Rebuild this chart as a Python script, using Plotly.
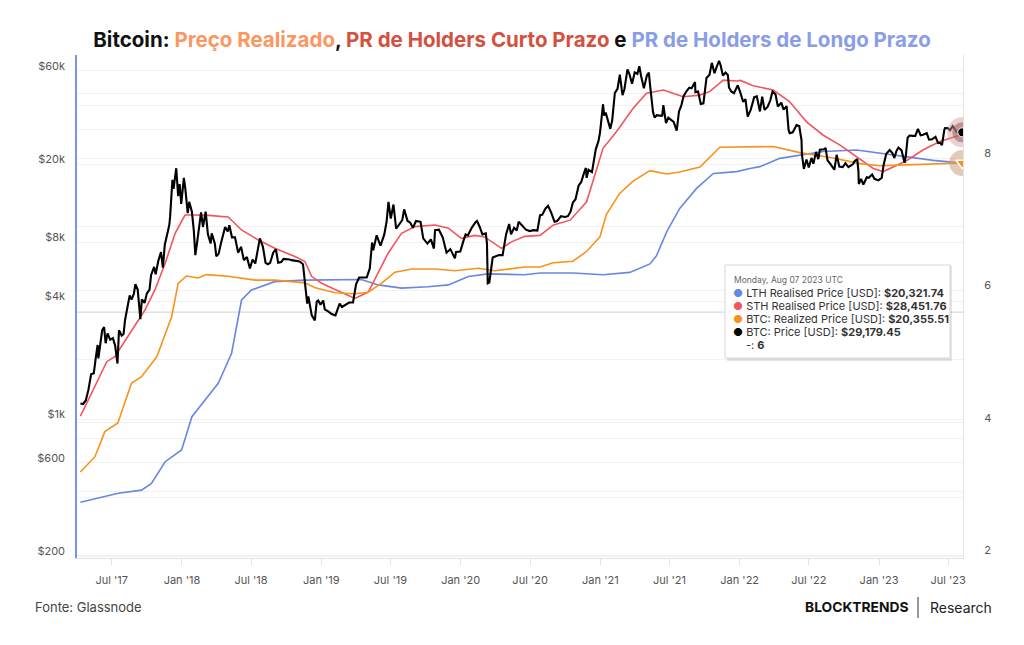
import plotly.graph_objects as go

# ---------------- data ----------------
price_dates = [
 "2017-04-10","2017-04-17","2017-04-24","2017-05-01","2017-05-08","2017-05-15","2017-05-20","2017-05-25","2017-05-27","2017-06-01",
 "2017-06-06","2017-06-11","2017-06-15","2017-06-20","2017-06-27","2017-07-04","2017-07-10","2017-07-16","2017-07-20","2017-07-27",
 "2017-08-01","2017-08-05","2017-08-12","2017-08-17","2017-08-22","2017-08-28","2017-09-01","2017-09-07","2017-09-14","2017-09-18",
 "2017-09-25","2017-10-01","2017-10-08","2017-10-12","2017-10-20","2017-10-24","2017-10-31","2017-11-07","2017-11-12","2017-11-17",
 "2017-11-26","2017-11-29","2017-12-01","2017-12-07","2017-12-10","2017-12-17","2017-12-22","2017-12-26","2017-12-30",
 "2018-01-06","2018-01-10","2018-01-16","2018-01-20","2018-01-27","2018-02-01","2018-02-05","2018-02-10","2018-02-16","2018-02-20",
 "2018-02-25","2018-03-04","2018-03-10","2018-03-17","2018-03-20","2018-03-28","2018-04-01","2018-04-07","2018-04-13","2018-04-20",
 "2018-04-24","2018-05-01","2018-05-05","2018-05-12","2018-05-20","2018-05-28","2018-06-05","2018-06-12","2018-06-20","2018-06-28",
 "2018-07-05","2018-07-12","2018-07-20","2018-07-24","2018-08-01","2018-08-08","2018-08-14","2018-08-20","2018-08-28","2018-09-04",
 "2018-09-10","2018-09-18","2018-09-24","2018-10-01","2018-10-10","2018-10-15","2018-10-25","2018-11-05","2018-11-14","2018-11-19",
 "2018-11-25","2018-11-28","2018-12-07","2018-12-15","2018-12-20","2018-12-24","2018-12-30",
 "2019-01-06","2019-01-10","2019-01-20","2019-01-28","2019-02-07","2019-02-18","2019-02-24","2019-03-05","2019-03-15","2019-03-25",
 "2019-04-02","2019-04-10","2019-04-20","2019-04-30","2019-05-08","2019-05-14","2019-05-17","2019-05-26","2019-06-05","2019-06-15",
 "2019-06-21","2019-06-26","2019-07-02","2019-07-09","2019-07-16","2019-07-25","2019-08-01","2019-08-06","2019-08-15","2019-08-22",
 "2019-08-29","2019-09-06","2019-09-18","2019-09-25","2019-10-06","2019-10-15","2019-10-23","2019-10-26","2019-11-05","2019-11-15",
 "2019-11-22","2019-11-25","2019-12-05","2019-12-17","2019-12-20","2019-12-31",
 "2020-01-08","2020-01-14","2020-01-20","2020-01-30","2020-02-09","2020-02-13","2020-02-20","2020-02-27","2020-03-07","2020-03-10",
 "2020-03-12","2020-03-16","2020-03-25","2020-04-02","2020-04-10","2020-04-20","2020-04-29","2020-05-07","2020-05-12","2020-05-20",
 "2020-05-27","2020-06-01","2020-06-10","2020-06-20","2020-06-30","2020-07-10","2020-07-20","2020-07-27","2020-08-02","2020-08-10",
 "2020-08-17","2020-08-25","2020-09-03","2020-09-10","2020-09-20","2020-09-30","2020-10-08","2020-10-15","2020-10-21","2020-10-28",
 "2020-11-05","2020-11-12","2020-11-18","2020-11-24","2020-11-26","2020-12-01","2020-12-10","2020-12-16","2020-12-20","2020-12-27",
 "2020-12-31",
 "2021-01-03","2021-01-08","2021-01-11","2021-01-15","2021-01-22","2021-01-27","2021-02-01","2021-02-08","2021-02-15","2021-02-21",
 "2021-02-28","2021-03-05","2021-03-13","2021-03-18","2021-03-25","2021-04-01","2021-04-08","2021-04-13","2021-04-18","2021-04-25",
 "2021-05-03","2021-05-08","2021-05-12","2021-05-19","2021-05-23","2021-05-29","2021-06-05","2021-06-12","2021-06-15","2021-06-22",
 "2021-06-28","2021-07-05","2021-07-12","2021-07-20","2021-07-26","2021-08-01","2021-08-07","2021-08-14","2021-08-22","2021-08-28",
 "2021-09-06","2021-09-07","2021-09-14","2021-09-21","2021-09-28","2021-10-06","2021-10-14","2021-10-20","2021-10-27","2021-11-02",
 "2021-11-08","2021-11-12","2021-11-18","2021-11-25","2021-12-01","2021-12-04","2021-12-10","2021-12-17","2021-12-27",
 "2022-01-03","2022-01-10","2022-01-16","2022-01-22","2022-01-30","2022-02-08","2022-02-15","2022-02-23","2022-03-01","2022-03-07",
 "2022-03-15","2022-03-22","2022-03-28","2022-04-05","2022-04-11","2022-04-20","2022-04-26","2022-05-04","2022-05-09","2022-05-12",
 "2022-05-20","2022-05-30","2022-06-06","2022-06-12","2022-06-13","2022-06-18","2022-06-25","2022-07-01","2022-07-08","2022-07-13",
 "2022-07-20","2022-07-26","2022-07-30","2022-08-10","2022-08-14","2022-08-19","2022-08-26","2022-09-06","2022-09-12","2022-09-19",
 "2022-09-28","2022-10-05","2022-10-13","2022-10-25","2022-10-29","2022-11-05","2022-11-08","2022-11-09","2022-11-15","2022-11-21",
 "2022-11-30","2022-12-05","2022-12-14","2022-12-20","2022-12-30",
 "2023-01-08","2023-01-13","2023-01-20","2023-01-29","2023-02-05","2023-02-10","2023-02-16","2023-02-21","2023-03-01","2023-03-09",
 "2023-03-12","2023-03-17","2023-03-22","2023-03-30","2023-04-06","2023-04-13","2023-04-20","2023-04-26","2023-05-06","2023-05-12",
 "2023-05-20","2023-05-29","2023-06-05","2023-06-10","2023-06-15","2023-06-21","2023-06-23","2023-07-01","2023-07-06","2023-07-13",
 "2023-07-20","2023-07-24","2023-07-31","2023-08-07",
]
price_usd = [
 1208,1200,1250,1420,1700,1720,2050,2400,2050,2400,
 2860,2960,2450,2750,2550,2600,2380,1930,2850,2680,
 2730,3230,3880,4300,4090,4380,4900,4600,3250,4100,
 3930,4400,4600,5450,6000,5500,6450,7150,5950,7800,
 9300,9900,10900,16700,15000,19140,13800,15900,12600,
 17100,14900,11300,12900,11500,9200,6900,8100,10200,11400,
 9600,11500,8800,7900,8900,7900,6800,7000,7900,8900,
 9600,9100,9800,8500,8500,7100,7600,6500,6750,5900,
 6550,6250,7400,8400,7600,6300,6200,6300,7100,7400,
 6300,6350,6600,6600,6550,6500,6450,6400,6200,4900,
 3900,4250,3400,3200,4000,4050,3850,
 4050,3650,3550,3450,3400,3900,3750,3850,3950,3950,
 4900,5300,5300,5300,5900,8000,7300,8700,7700,8800,
 10200,12900,10600,12500,9400,9900,10400,11800,10300,10100,
 9500,10300,10200,8400,7900,8300,7450,9250,9300,8500,
 7600,7100,7400,6650,7150,7200,
 8100,8800,8700,9500,10150,10300,9600,8800,8900,7900,
 4950,5000,6700,6800,6900,6900,8800,9950,8800,9500,
 9200,10200,9800,9300,9150,9250,9200,11000,11100,11900,
 12300,11400,10200,10300,10900,10800,10900,11500,12800,13300,
 15600,16300,17800,19200,17100,18800,18300,21300,23900,26300,
 29000,
 32800,40600,35500,36800,32900,30400,33500,46400,48700,57500,
 45200,48400,61200,58000,51700,59000,58000,63500,56200,49000,
 57000,58800,49200,37000,34700,35700,35500,35500,40200,32500,
 34700,33800,33000,29800,37300,39900,44600,47100,49300,49000,
 52700,46800,47100,40700,41000,55300,57400,66000,58400,63200,
 67500,64200,56900,58900,57200,49400,47200,46200,50700,
 46400,41800,43100,35100,38100,44100,44500,37300,44400,38000,
 39300,42400,47100,45500,39500,41400,38100,39700,30100,28900,
 29200,31800,31400,26600,22500,19000,21200,19300,21600,20200,
 23200,21300,23800,23900,24300,21000,20200,18800,22400,19500,
 19400,20300,19400,20100,20800,21300,18500,15900,16900,15800,
 17200,17100,17800,16900,16600,
 17100,19900,22700,23700,22900,21600,23500,24400,23600,20400,
 22000,27400,28100,28000,28000,30400,28200,28400,28900,26800,
 26900,27700,25700,25800,25100,30000,30700,30600,29900,31400,
 29900,29200,29200,29179.45,
]

realized_dates = [
 "2017-04-10","2017-05-18","2017-06-13","2017-07-17","2017-08-22","2017-09-17","2017-10-27","2017-12-05","2017-12-22",
 "2018-01-13","2018-02-12","2018-03-06","2018-05-02","2018-07-11","2018-09-01","2018-10-24","2018-11-19","2018-12-16",
 "2019-02-06","2019-03-30","2019-05-04","2019-06-08","2019-07-13","2019-08-26","2019-10-26","2019-12-17",
 "2020-02-16","2020-03-31","2020-05-14","2020-06-17","2020-07-27","2020-08-30","2020-10-21","2020-11-26","2020-12-31",
 "2021-01-17","2021-02-20","2021-03-27","2021-05-11","2021-06-24","2021-07-28","2021-09-19","2021-11-10","2021-12-24",
 "2022-01-28","2022-03-30","2022-06-08","2022-09-03","2022-11-12","2023-01-03","2023-03-14","2023-06-09","2023-08-07",
]
realized_usd = [
 540,646,867,960,1535,1652,2090,3343,4952,
 5397,5270,5484,5380,5140,5140,5050,4980,4700,
 4430,4380,4460,4960,5640,5860,5860,5740,
 5910,5740,5910,6000,6000,6310,6420,7200,8560,
 11150,14200,16400,18600,17900,18300,19400,24500,24600,
 24500,24700,23000,21600,20200,19700,19900,20200,20355.51,
]

sth_dates = [
 "2017-04-10","2017-05-18","2017-06-18","2017-07-09","2017-08-04","2017-08-31","2017-09-26","2017-10-22","2017-11-18","2017-12-14",
 "2018-01-09","2018-02-04","2018-03-11","2018-05-02","2018-06-06","2018-07-20","2018-09-01","2018-10-24","2018-11-10","2018-11-19",
 "2018-12-07","2019-01-02","2019-02-06","2019-03-30","2019-05-04","2019-05-30","2019-06-25","2019-07-30","2019-09-03","2019-10-26",
 "2019-11-30","2020-01-03","2020-02-07","2020-03-04","2020-04-17","2020-05-13","2020-06-17","2020-07-27","2020-08-31","2020-10-14",
 "2020-11-26","2021-01-08","2021-02-12","2021-03-28","2021-05-02","2021-06-15","2021-08-06","2021-09-19","2021-10-15","2021-11-19",
 "2021-12-24","2022-01-03","2022-02-05","2022-03-30","2022-05-12","2022-06-25","2022-08-08","2022-09-21","2022-11-03","2022-12-17",
 "2023-01-12","2023-02-07","2023-03-14","2023-04-26","2023-06-09","2023-08-07",
]
sth_usd = [
 1040,1470,1972,2090,2494,3036,3620,4580,6270,8910,
 11050,11050,11000,10800,9270,8240,7470,6780,6510,6400,
 5360,4960,4600,4150,4470,5570,7050,8910,9640,9830,
 9460,8400,8700,8540,7470,8060,8600,8700,9830,10400,
 12900,24200,29400,38700,46200,48000,44300,45200,47200,53900,
 53300,53700,50500,48000,41800,33000,28200,25100,21900,19100,
 18400,19500,20900,23700,26200,28451.76,
]

lth_dates = [
 "2017-04-10","2017-05-27","2017-07-18","2017-09-17","2017-10-13","2017-11-18","2017-12-14","2017-12-31",
 "2018-01-27","2018-03-02","2018-04-06","2018-05-11","2018-06-06","2018-07-02","2018-09-01","2018-11-19",
 "2019-01-19","2019-04-16","2019-05-30","2019-07-30","2019-10-08","2019-11-30",
 "2020-01-21","2020-03-13","2020-06-17","2020-07-27","2020-10-22",
 "2021-01-08","2021-03-19","2021-05-11","2021-05-28","2021-06-24","2021-07-28","2021-09-10","2021-10-24","2021-12-24",
 "2022-01-28","2022-02-23","2022-04-16","2022-06-08","2022-08-08","2022-11-03",
 "2023-01-03","2023-03-14","2023-05-23","2023-08-07",
]
lth_usd = [
 378,396,420,436,472,609,659,699,
 1033,1257,1530,2178,4070,4580,5050,5140,
 5140,5180,4860,4680,4760,4860,
 5360,5530,5480,5590,5590,
 5480,5630,6220,6840,9080,11930,15100,18000,18400,
 19100,19500,21500,22400,23300,23700,
 22800,21900,21000,20321.74,
]

left_tick_vals = [200, 600, 1000, 4000, 8000, 20000, 60000]
left_tick_text = ["$200", "$600", "$1k", "$4k", "$8k", "$20k", "$60k"]
extra_grid_usd = [402, 427, 804, 2035, 9710, 30300, 39800, 45800]
right_tick_vals = [2, 4, 6, 8]
ref_line_usd = 3530
x_tick_start = "2017-07-01"

tooltip_date = "Monday, Aug 07 2023 UTC"
tooltip_extra = 6

LTH_C = "#6a86e4"
STH_C = "#f4555c"
RP_C = "#f7931a"
PX_C = "#000000"

# ---------------- figure ----------------
fig = go.Figure()
fig.add_trace(go.Scatter(x=lth_dates, y=lth_usd, mode="lines", line=dict(color=LTH_C, width=1.6),
                         hoverinfo="skip", showlegend=False))
fig.add_trace(go.Scatter(x=sth_dates, y=sth_usd, mode="lines", line=dict(color=STH_C, width=1.6),
                         hoverinfo="skip", showlegend=False))
fig.add_trace(go.Scatter(x=realized_dates, y=realized_usd, mode="lines", line=dict(color=RP_C, width=1.6),
                         hoverinfo="skip", showlegend=False))
fig.add_trace(go.Scatter(x=price_dates, y=price_usd, mode="lines", line=dict(color=PX_C, width=2.1),
                         hoverinfo="skip", showlegend=False))

# end-point highlight markers
px_end = [price_dates[-1]], [price_usd[-1]]
rp_end = [realized_dates[-1]], [realized_usd[-1]]
fig.add_trace(go.Scatter(x=px_end[0], y=px_end[1], mode="markers",
                         marker=dict(size=30, color="rgba(214,150,150,0.45)"), hoverinfo="skip", showlegend=False))
fig.add_trace(go.Scatter(x=px_end[0], y=px_end[1], mode="markers",
                         marker=dict(size=20, color="rgba(150,95,95,0.55)"), hoverinfo="skip", showlegend=False))
fig.add_trace(go.Scatter(x=px_end[0], y=px_end[1], mode="markers",
                         marker=dict(size=9, color="#000", line=dict(color="#fff", width=1)), hoverinfo="skip", showlegend=False))
fig.add_trace(go.Scatter(x=rp_end[0], y=rp_end[1], mode="markers",
                         marker=dict(size=26, color="rgba(205,160,120,0.55)"), hoverinfo="skip", showlegend=False))
fig.add_trace(go.Scatter(x=rp_end[0], y=rp_end[1], mode="markers",
                         marker=dict(size=11, symbol="triangle-down", color=RP_C, line=dict(color="#fff", width=1.5)),
                         hoverinfo="skip", showlegend=False))
# dummy trace to enable right axis
fig.add_trace(go.Scatter(x=[price_dates[-1]], y=[tooltip_extra], yaxis="y2", mode="markers",
                         marker=dict(size=1, color="rgba(0,0,0,0)"), hoverinfo="skip", showlegend=False))

L, R, T, B = 77, 61, 55, 87
W, H = 1024, 645
PW, PH = W - L - R, H - T - B

def px(x):
    return (x - L) / PW

def py(y):
    return (H - B - y) / PH

all_vals = left_tick_vals + extra_grid_usd
order = sorted(range(len(all_vals)), key=lambda i: all_vals[i])
tv = [all_vals[i] for i in order]
tt = [(left_tick_text[i] if i < len(left_tick_text) else "") for i in order]

fig.update_layout(
    width=W, height=H, autosize=False,
    margin=dict(l=L, r=R, t=T, b=B),
    paper_bgcolor="white", plot_bgcolor="white",
    font=dict(family="Inter", color="#555"),
    title=dict(
        text=("<b>Bitcoin: <span style='color:#fb9760'>Preço Realizado</span>, "
              "<span style='color:#d4503f'>PR de Holders Curto Prazo</span> e "
              "<span style='color:#8a9de8'>PR de Holders de Longo Prazo</span></b>"),
        x=0.5, xanchor="center", y=1 - 40 / H, yanchor="middle",
        font=dict(family="Inter", size=20.5, color="#111"),
    ),
    xaxis=dict(
        type="date", range=["2017-04-01", "2023-08-09"],
        tick0=x_tick_start, dtick="M6", tickformat="%b '%y",
        showgrid=False, zeroline=False,
        showline=True, linecolor="#e3e3e3", linewidth=1,
        ticks="outside", ticklen=6, tickcolor="#e3e3e3",
        ticklabelstandoff=6,
        tickfont=dict(family="Inter", size=11, color="#555"),
    ),
    yaxis=dict(
        type="log", range=[2.2933, 4.8597],
        tickvals=tv, ticktext=tt,
        showgrid=True, gridcolor="#f1f1f1", gridwidth=1,
        zeroline=False,
        showline=True, linecolor="#7b93e6", linewidth=1.5,
        ticks="", ticklabelstandoff=8, ticklabelshift=-5,
        tickfont=dict(family="Inter", size=11, color="#555"),
    ),
    yaxis2=dict(
        overlaying="y", side="right", range=[1.955, 9.557],
        tickvals=right_tick_vals,
        showgrid=True, gridcolor="#f1f1f1", zeroline=False,
        showline=True, linecolor="#e3e3e3", linewidth=1,
        ticks="", ticklabelstandoff=18, ticklabelshift=-5,
        tickfont=dict(family="Inter", size=11, color="#555"),
    ),
)

# darker reference line
fig.add_shape(type="line", xref="paper", x0=0, x1=1, yref="y", y0=ref_line_usd, y1=ref_line_usd,
              line=dict(color="#cfcfcf", width=1), layer="below")

# tooltip box
bx0, bx1, by0, by1 = 725, 950, 265, 358
fig.add_shape(type="rect", xref="paper", yref="paper",
              x0=px(bx0 + 2), x1=px(bx1 + 2), y0=py(by1 + 3), y1=py(by0 + 1),
              fillcolor="rgba(0,0,0,0.10)", line=dict(width=0), layer="above")
fig.add_shape(type="rect", xref="paper", yref="paper",
              x0=px(bx0), x1=px(bx1), y0=py(by1), y1=py(by0),
              fillcolor="white", line=dict(color="#d6d6d6", width=1), layer="above")

def tip(text, x, y, size=11, color="#333"):
    fig.add_annotation(xref="paper", yref="paper", x=px(x), y=py(y), xanchor="left", yanchor="middle",
                       text=text, showarrow=False, font=dict(family="Inter", size=size, color=color))

tip(tooltip_date, 732, 280, size=8.5, color="#666")
rows = [
    (LTH_C, "LTH Realised Price [USD]", lth_usd[-1]),
    (STH_C, "STH Realised Price [USD]", sth_usd[-1]),
    (RP_C, "BTC: Realized Price [USD]", realized_usd[-1]),
    (PX_C, "BTC: Price [USD]", price_usd[-1]),
]
for i, (c, lab, v) in enumerate(rows):
    tip(f"<span style='color:{c}'>●</span> {lab}: <b>${v:,.2f}</b>", 731, 293 + 13 * i)
tip(f"-: <b>{tooltip_extra}</b>", 744, 345)

# footer
fig.add_annotation(xref="paper", yref="paper", x=px(33), y=py(607), xanchor="left", yanchor="middle",
                   text="Fonte: Glassnode", showarrow=False, font=dict(family="Inter", size=13, color="#444"))
fig.add_annotation(xref="paper", yref="paper", x=px(910), y=py(607), xanchor="right", yanchor="middle",
                   text="<b>BLOCKTRENDS</b>", showarrow=False, font=dict(family="Inter", size=13.8, color="#111"))
fig.add_shape(type="line", xref="paper", yref="paper", x0=px(918), x1=px(918), y0=py(597), y1=py(618),
              line=dict(color="#333", width=1))
fig.add_annotation(xref="paper", yref="paper", x=px(928), y=py(607), xanchor="left", yanchor="middle",
                   text="Research", showarrow=False, font=dict(family="Inter", size=14, color="#222"))

fig.write_html("out.html")
